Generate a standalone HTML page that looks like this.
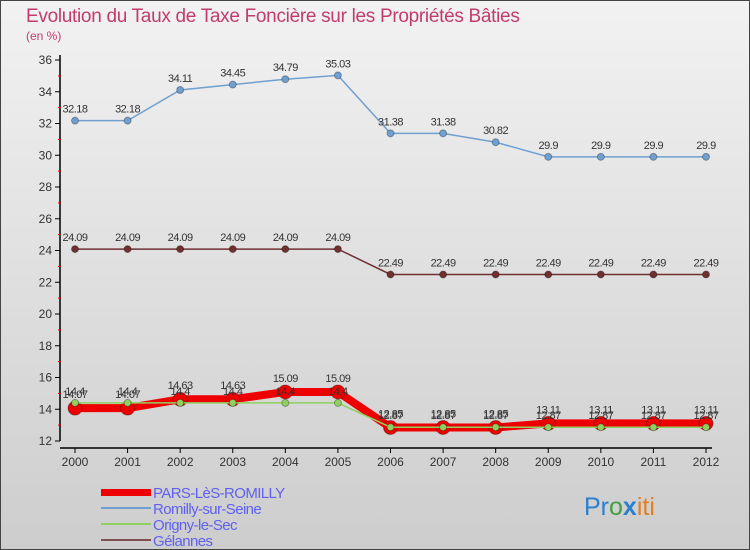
<!DOCTYPE html>
<html><head><meta charset="utf-8"><style>
body{margin:0;width:750px;height:550px;overflow:hidden;font-family:"Liberation Sans",sans-serif}
svg{display:block}
</style></head><body>
<svg width="750" height="550">
<defs><linearGradient id="bg" x1="0" y1="0" x2="0" y2="1"><stop offset="0" stop-color="#f2f2f2"/><stop offset="1" stop-color="#cdcdcd"/></linearGradient></defs>
<rect x="0.5" y="0.5" width="749" height="549" fill="url(#bg)" stroke="#444"/>
<text x="26" y="22" font-size="19" fill="#c23b6e" letter-spacing="-0.3">Evolution du Taux de Taxe Foncière sur les Propriétés Bâties</text>
<text x="26" y="40" font-size="12" fill="#c23b6e">(en %)</text>
<g id="axes"></g><g id="series"></g><g id="labels"></g>
<g>
<rect x="101" y="489" width="50" height="7" fill="#e00"/>
<line x1="101" y1="508" x2="151" y2="508" stroke="#6fa0d0" stroke-width="2"/>
<line x1="101" y1="524" x2="151" y2="524" stroke="#90d060" stroke-width="2"/>
<line x1="101" y1="540" x2="151" y2="540" stroke="#805050" stroke-width="2"/>
<text x="153" y="498" font-size="15" fill="#6060f0" letter-spacing="-0.6">PARS-LèS-ROMILLY</text>
<text x="153" y="514" font-size="15" fill="#6060f0" letter-spacing="-0.6">Romilly-sur-Seine</text>
<text x="153" y="530" font-size="15" fill="#6060f0" letter-spacing="-0.6">Origny-le-Sec</text>
<text x="153" y="546" font-size="15" fill="#6060f0" letter-spacing="-0.6">Gélannes</text>
</g>
<text x="584" y="515" font-size="25"><tspan fill="#2a7fd0">Pr</tspan><tspan fill="#40a040">o</tspan><tspan fill="#2a7fd0" font-weight="bold">x</tspan><tspan fill="#e08020">iti</tspan></text>
</svg>
<script>
const years=[2000,2001,2002,2003,2004,2005,2006,2007,2008,2009,2010,2011,2012];
const yTicks=[12,14,16,18,20,22,24,26,28,30,32,34,36];
const romilly=[32.18,32.18,34.11,34.45,34.79,35.03,31.38,31.38,30.82,29.9,29.9,29.9,29.9];
const gelannes=[24.09,24.09,24.09,24.09,24.09,24.09,22.49,22.49,22.49,22.49,22.49,22.49,22.49];
const origny=[14.4,14.4,14.4,14.4,14.4,14.4,12.87,12.87,12.87,12.87,12.87,12.87,12.87];
const pars=[14.07,14.07,14.63,14.63,15.09,15.09,12.85,12.85,12.85,13.11,13.11,13.11,13.11];
const NS="http://www.w3.org/2000/svg";
const xs=i=>75+i*(706-75)/12;
const ys=v=>441-(v-12)*(441-60)/24;
function mk(tag,attrs,parent){const e=document.createElementNS(NS,tag);for(const k in attrs)e.setAttribute(k,attrs[k]);parent.appendChild(e);return e;}
const axes=document.getElementById('axes'),ser=document.getElementById('series'),lab=document.getElementById('labels');
let a=mk('line',{x1:60,y1:55,x2:60,y2:441,stroke:'#000','stroke-width':1.5},axes);


a=mk('line',{x1:60,y1:448,x2:712,y2:448,stroke:'#000','stroke-width':1.5},axes);


yTicks.forEach((v,i)=>{
 mk('line',{x1:55,y1:ys(v),x2:60,y2:ys(v),stroke:'#000'},axes);
 if(i<yTicks.length-1)mk('line',{x1:58,y1:ys(v+1),x2:61,y2:ys(v+1),stroke:'#e00'},axes);
 const t=mk('text',{x:52,y:ys(v)+4,'font-size':12,'text-anchor':'end',fill:'#333'},axes);
 
 
 t.textContent=v;
});
years.forEach((y,i)=>{
 mk('line',{x1:xs(i),y1:448,x2:xs(i),y2:453,stroke:'#000'},axes);
 const t=mk('text',{x:xs(i),y:466,'font-size':12,'text-anchor':'middle',fill:'#333'},axes);
 
 
 t.textContent=y;
});
function series(vals,color,w,r,name,dy){
 const p=mk('polyline',{points:vals.map((v,i)=>xs(i)+','+ys(v)).join(' '),fill:'none',stroke:color,'stroke-width':w},ser);
 
 
 vals.forEach((v,i)=>{
  const c=mk('circle',{cx:xs(i),cy:ys(v),r:r,fill:color,stroke:'rgba(0,0,0,0.3)'},ser);
  
  
  const t=mk('text',{x:xs(i),y:ys(v)+dy,'font-size':11,'text-anchor':'middle',fill:'#333','letter-spacing':'-0.5'},lab);
  
  
  t.textContent=String(v);
 });
}
series(romilly,'#6fa0d0',1.5,3.5,'romilly',-8);
series(gelannes,'#703030',1.5,3.5,'gelannes',-8);
series(pars,'#e00',8,7,'pars',-10);
series(origny,'#90d060',1.5,3.5,'origny',-8);
</script>
</body></html>
